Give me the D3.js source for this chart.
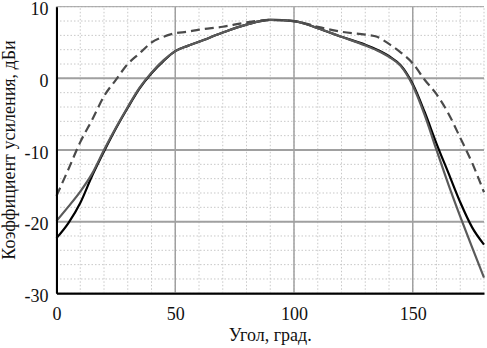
<!DOCTYPE html>
<html><head><meta charset="utf-8">
<script src="https://cdn.jsdelivr.net/npm/d3@7"></script>
<style>body{margin:0;background:#fff}svg{display:block}text{font-family:"Liberation Serif","DejaVu Serif",serif}</style>
</head><body>
<script>
const angles = [0,5,10,15,20,25,30,35,40,45,50,55,60,70,80,90,100,110,120,130,135,140,145,150,155,160,165,170,175,180];
const dashedSeries = [-16.4,-12.7,-8.9,-5.8,-2.5,-0.2,2.0,3.5,5.0,5.8,6.3,6.5,6.8,7.2,7.8,8.15,8.0,7.2,6.5,6.1,5.8,4.8,3.6,2.1,-0.2,-2.2,-4.9,-8.3,-11.8,-15.9];
const blackSeries  = [-22.3,-20.2,-17.4,-13.6,-10.2,-7.0,-4.1,-1.4,0.7,2.4,3.8,4.5,5.1,6.4,7.5,8.15,8.0,7.0,5.8,4.7,4.0,3.1,1.8,-0.8,-4.7,-9.1,-13.2,-17.3,-20.8,-23.2];
const greySeries   = [-19.9,-17.9,-15.8,-13.3,-10.0,-6.9,-4.0,-1.3,0.8,2.5,3.8,4.5,5.1,6.4,7.5,8.15,8.0,7.0,5.8,4.6,3.9,3.0,1.7,-1.0,-5.1,-10.0,-14.8,-19.3,-23.6,-27.8];
const xTicks = [0,50,100,150];
const yTicks = [-30,-20,-10,0,10];
const xMinor = d3.range(0,181,10);
const yMinor = d3.range(-30,11,2);
const xTitle = "Угол, град.";
const yTitle = "Коэффициент усиления, дБи";

const W=487,H=348;
const m={l:56.5,r:3,t:6.7,b:54.7};
const svg=d3.select("body").append("svg").attr("width",W).attr("height",H);
const x=d3.scaleLinear().domain([0,180]).range([m.l,W-m.r]);
const y=d3.scaleLinear().domain([-30,10]).range([H-m.b,m.t]);

// minor grid
svg.append("g").selectAll("line").data(xMinor).join("line")
  .attr("x1",d=>x(d)).attr("x2",d=>x(d)).attr("y1",y(-30)).attr("y2",y(10))
  .attr("stroke","#c8c8c8").attr("stroke-width",1).attr("stroke-dasharray","1.5,2");
svg.append("g").selectAll("line").data(yMinor).join("line")
  .attr("y1",d=>y(d)).attr("y2",d=>y(d)).attr("x1",x(0)).attr("x2",x(180))
  .attr("stroke","#c8c8c8").attr("stroke-width",1).attr("stroke-dasharray","1.5,2");
// major grid
svg.append("g").selectAll("line").data(xTicks).join("line")
  .attr("x1",d=>x(d)).attr("x2",d=>x(d)).attr("y1",y(-30)).attr("y2",y(10))
  .attr("stroke","#a0a0a0").attr("stroke-width",1.5);
svg.append("g").selectAll("line").data(yTicks).join("line")
  .attr("y1",d=>y(d)).attr("y2",d=>y(d)).attr("x1",x(0)).attr("x2",x(180))
  .attr("stroke","#a0a0a0").attr("stroke-width",d=>d===10?1:2);

const line=d3.line().x((d,i)=>x(angles[i])).y(d=>y(d)).curve(d3.curveMonotoneX);
svg.append("path").attr("d",line(blackSeries)).attr("fill","none").attr("stroke","#000").attr("stroke-width",2.2);
svg.append("path").attr("d",line(greySeries)).attr("fill","none").attr("stroke","#5a5a5a").attr("stroke-width",2.2);
svg.append("path").attr("d",line(dashedSeries)).attr("fill","none").attr("stroke","#4a4a4a").attr("stroke-width",2.2).attr("stroke-dasharray","9,5");

// axes
const fmt = d => String(d);
const gx=svg.append("g").attr("transform",`translate(0,${y(-30)})`)
  .call(d3.axisBottom(x).tickValues(xTicks).tickFormat(fmt).tickSize(0).tickPadding(14));
const gy=svg.append("g").attr("transform",`translate(${x(0)},0)`)
  .call(d3.axisLeft(y).tickValues(yTicks).tickFormat(fmt).tickSize(0).tickPadding(8));
[gx,gy].forEach(g=>{
  g.attr("font-family",null);
  g.select(".domain").attr("stroke","#000").attr("stroke-width",2);
  g.selectAll("text").attr("font-size",18).attr("fill","#111");
});
gy.selectAll("text").attr("dy","0.45em");

svg.append("text").attr("x",(x(0)+x(180))/2).attr("y",341).attr("text-anchor","middle")
  .attr("font-size",18).attr("fill","#111").text(xTitle);
svg.append("text").attr("transform",`translate(15,${(y(-30)+y(10))/2}) rotate(-90)`)
  .attr("text-anchor","middle").attr("font-size",18).attr("fill","#111").text(yTitle);
</script>
</body></html>
